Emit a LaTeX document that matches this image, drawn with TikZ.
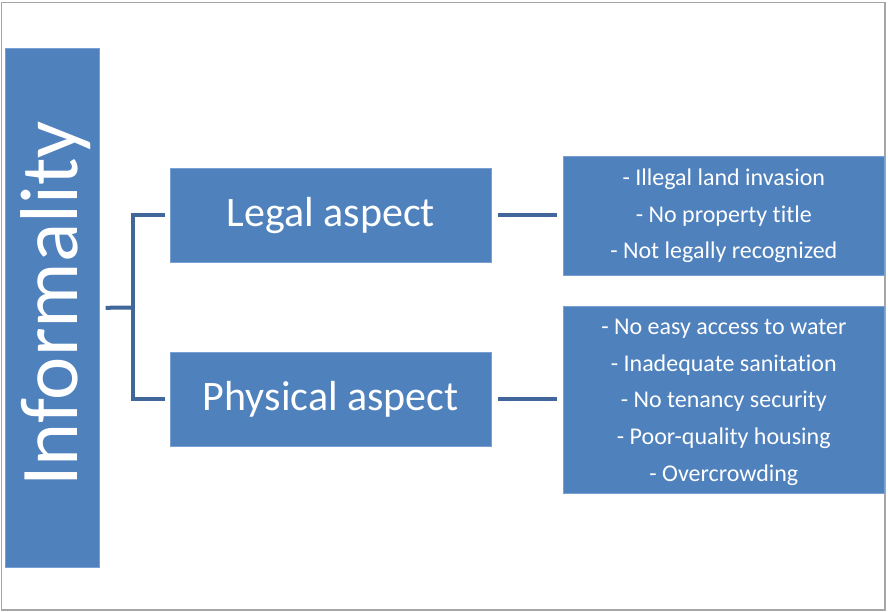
\documentclass[tikz,border=0pt]{standalone}
\usepackage{fontspec}
\setmainfont{Carlito}[Ligatures={NoCommon}]
\definecolor{boxblue}{RGB}{79,129,189}
\definecolor{boxedge}{RGB}{120,160,210}
\definecolor{linkblue}{RGB}{65,102,154}
\definecolor{frame}{RGB}{166,166,166}
\begin{document}
\begin{tikzpicture}[x=1pt,y=-1pt,
  bluebox/.style={rectangle, fill=boxblue, draw=boxedge, line width=0.6pt, inner sep=0pt, anchor=north west, text=white, align=center},
  conn/.style={draw=linkblue, line width=4pt, line join=miter}]
\fill[white] (0,0) rectangle (888,612);
\useasboundingbox (0,0) rectangle (888,612);
\draw[frame, line width=1.6pt] (1.6,2.6) rectangle (885,610);
% boxes
\node[bluebox, minimum width=94pt, minimum height=519pt] (inf) at (5,48) {};
\node[text=white, rotate=90, anchor=base, font=\fontsize{82}{90}\selectfont, inner sep=0pt] (inftext) at (77,304) {Informality};
\node[bluebox, minimum width=321pt, minimum height=94pt, font=\fontsize{42}{50}\selectfont] (legal) at (170,168) {Legal aspect};
\node[bluebox, minimum width=321pt, minimum height=94pt, font=\fontsize{42}{50}\selectfont] (phys) at (170,352) {Physical aspect};
\node[bluebox, minimum width=321pt, minimum height=119pt, font=\fontsize{24}{36.8}\selectfont] (legalitems) at (563,156) {- Illegal land invasion\\- No property title\\- Not legally recognized};
\node[bluebox, minimum width=321pt, minimum height=187pt, font=\fontsize{24}{36.8}\selectfont] (physitems) at (563,306) {};
\node[text=white, align=center, inner sep=0pt, font=\fontsize{24}{36.8}\selectfont] (physlist) at ([yshift=-2.5pt]physitems.center) {- No easy access to water\\- Inadequate sanitation\\- No tenancy security\\- Poor-quality housing\\- Overcrowding};
% connectors
\coordinate (fork) at (133,307.5);
\draw[conn] ([xshift=6pt]inf.east) -- (fork);
\draw[conn] ([xshift=-5pt]legal.west) -| (fork);
\draw[conn] ([xshift=-5pt]phys.west) -| (fork);
\draw[conn] ([xshift=6pt]legal.east) -- ([xshift=-6pt]legal.east -| legalitems.west);
\draw[conn] ([xshift=6pt]phys.east) -- ([xshift=-6pt]phys.east -| physitems.west);
\end{tikzpicture}
\end{document}
